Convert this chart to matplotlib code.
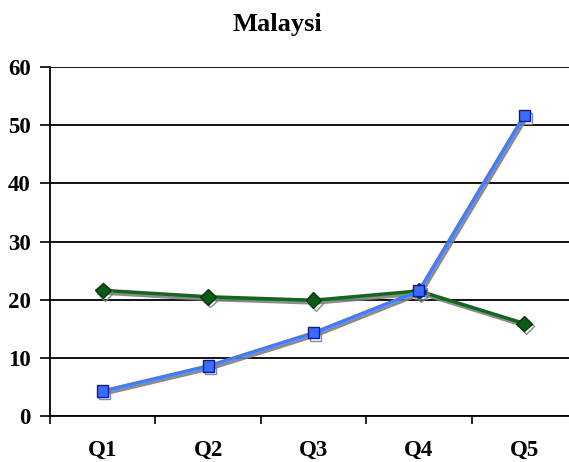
import matplotlib
matplotlib.use("Agg")
import matplotlib.pyplot as plt
import matplotlib.patheffects as pe

quarters = ["Q1", "Q2", "Q3", "Q4", "Q5"]
green_values = [21.6, 20.5, 19.9, 21.5, 15.9]
blue_values = [4.3, 8.6, 14.3, 21.5, 51.7]
y_ticks = [0, 10, 20, 30, 40, 50, 60]

plt.rcParams['font.family'] = ['Liberation Serif', 'DejaVu Serif']
plt.rcParams['font.weight'] = 'bold'

fig = plt.figure(figsize=(5.69, 4.62), dpi=100)
# axes extends past the right edge, the original picture is cropped
ax = fig.add_axes([50 / 569, 46 / 462, 527 / 569, 349 / 462])

x = list(range(1, len(quarters) + 1))
shadow = [pe.SimpleLineShadow(offset=(1.5, -2), shadow_color='#808080', alpha=0.9), pe.Normal()]

ax.plot(x, green_values, color='#13671c', lw=2.5, marker='D', ms=8,
        mfc='#0c5a16', mec='#053a0b', mew=1, path_effects=shadow, zorder=3)
ax.plot(x, blue_values, color='#3f7cff', lw=2.5, marker='s', ms=8,
        mfc='#3a6dff', mec='#0a1a9a', mew=1, path_effects=shadow, zorder=4)

ax.set_xlim(0.5, len(quarters) + 0.5)
ax.set_ylim(0, 60)
ax.set_yticks(y_ticks)
ax.set_xticks(x)
ax.set_xticklabels(quarters)
ax.set_xticks([i + 0.5 for i in range(len(quarters) + 1)], minor=True)
ax.tick_params(axis='x', which='major', length=0, pad=17, labelsize=16.5)
ax.tick_params(axis='x', which='minor', length=6, width=1.2, direction='out')
ax.tick_params(axis='y', length=7, width=1.2, pad=7, labelsize=16.5)

ax.yaxis.grid(True, color='black', lw=1.3)
ax.set_axisbelow(True)
for side in ['top', 'right']:
    ax.spines[side].set_visible(False)
for side in ['left', 'bottom']:
    ax.spines[side].set_linewidth(1.3)

fig.text(277 / 569, 1 - 25 / 462, "Malaysi", ha='center', va='center',
         fontsize=19, fontweight='bold')

fig.savefig("out.png", dpi=100)
